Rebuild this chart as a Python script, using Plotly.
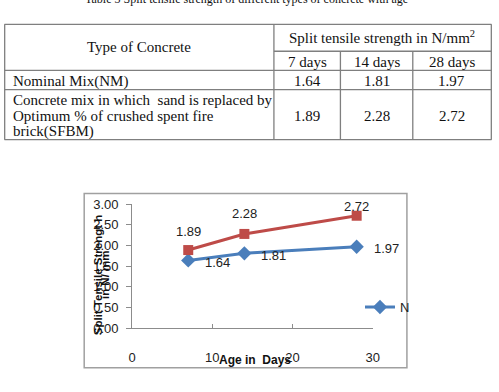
import plotly.graph_objects as go

# ---------------- data ----------------
ages = [7, 14, 28]
nm_values = [1.64, 1.81, 1.97]
sfbm_values = [1.89, 2.28, 2.72]
day_labels = ["7 days", "14 days", "28 days"]
row_nm_label = ["Nominal Mix(NM)"]
row_sfbm_label = ["Concrete mix in which  sand is replaced by",
                  "Optimum % of crushed spent fire",
                  "brick(SFBM)"]
x_ticks = [0, 10, 20, 30]
y_ticks = [0.0, 0.5, 1.0, 1.5, 2.0, 2.5, 3.0]
legend_label = "N"
caption = "Table 3 Split tensile strength of different types of concrete with age"
header_left = "Type of Concrete"
header_right = "Split tensile strength in N/mm<sup>2</sup>"
x_title = "Age in  Days"
y_title_lines = ["Split Tensile Strengt h", "in N/ mm"]

# ---------------- geometry / style ----------------
W, H = 499, 392
def px(x):
    return x / W
def py(y):
    return 1 - y / H

BLUE = "#4A7EBB"
RED = "#BE4B48"
SERIF = "Liberation Serif"
SANS = "Liberation Sans"
TXT = "#111111"
GRID = "#7f7f7f"

fig = go.Figure()

fig.add_trace(go.Scatter(
    x=ages, y=nm_values, mode="lines+markers", name=legend_label,
    line=dict(color=BLUE, width=3),
    marker=dict(symbol="diamond", size=11, color=BLUE),
    showlegend=True, cliponaxis=False,
))
fig.add_trace(go.Scatter(
    x=ages, y=sfbm_values, mode="lines+markers", name="SFBM",
    line=dict(color=RED, width=3),
    marker=dict(symbol="square", size=10, color=RED),
    showlegend=False, cliponaxis=False,
))

annotations = []
# data labels
sfbm_label_shift = [19, 20, 9]
for a, v, s in zip(ages, sfbm_values, sfbm_label_shift):
    annotations.append(dict(x=a, y=v, xref="x", yref="y", text=f"{v:.2f}",
                            showarrow=False, yshift=s, xanchor="center", yanchor="middle",
                            font=dict(family=SANS, size=13, color="#222")))
for a, v in zip(ages, nm_values):
    annotations.append(dict(x=a, y=v, xref="x", yref="y", text=f"{v:.2f}",
                            showarrow=False, xshift=15, yshift=-2, xanchor="left", yanchor="middle",
                            font=dict(family=SANS, size=13, color="#222")))

# axis titles
annotations.append(dict(x=px(257), y=py(367), xref="paper", yref="paper", text=f"<b>{x_title}</b>",
                        showarrow=False, xanchor="center", yanchor="middle",
                        font=dict(family=SANS, size=12, color="#111")))
for xc, line in zip([96, 104], y_title_lines):
    annotations.append(dict(x=px(xc), y=py(278), xref="paper", yref="paper", text=f"<b>{line}</b>",
                            showarrow=False, xanchor="center", yanchor="middle", textangle=-90,
                            font=dict(family=SANS, size=11.5, color="#111")))

# table text
annotations.append(dict(x=px(248), y=py(1), xref="paper", yref="paper", text=caption,
                        showarrow=False, xanchor="center", yanchor="bottom",
                        font=dict(family=SERIF, size=12, color=TXT)))
annotations.append(dict(x=px(138), y=py(42), xref="paper", yref="paper", text=header_left,
                        showarrow=False, xanchor="center", yanchor="middle",
                        font=dict(family=SERIF, size=15, color=TXT)))
annotations.append(dict(x=px(387), y=py(31), xref="paper", yref="paper", text=header_right,
                        showarrow=False, xanchor="center", yanchor="middle",
                        font=dict(family=SERIF, size=15, color=TXT)))
col_x = [310, 381, 458]
for cx, lab in zip(col_x, day_labels):
    annotations.append(dict(x=px(cx), y=py(57), xref="paper", yref="paper", text=lab,
                            showarrow=False, xanchor="center", yanchor="middle",
                            font=dict(family=SERIF, size=15, color=TXT)))
annotations.append(dict(x=px(7), y=py(77), xref="paper", yref="paper", text=row_nm_label[0],
                        showarrow=False, xanchor="left", yanchor="middle",
                        font=dict(family=SERIF, size=15, color=TXT)))
for i, line in enumerate(row_sfbm_label):
    annotations.append(dict(x=px(7), y=py(97 + 16 * i), xref="paper", yref="paper", text=line,
                            showarrow=False, xanchor="left", yanchor="middle",
                            font=dict(family=SERIF, size=15, color=TXT)))
for cx, v in zip(col_x, nm_values):
    annotations.append(dict(x=px(cx), y=py(77), xref="paper", yref="paper", text=f"{v:.2f}",
                            showarrow=False, xanchor="center", yanchor="middle",
                            font=dict(family=SERIF, size=15, color=TXT)))
for cx, v in zip(col_x, sfbm_values):
    annotations.append(dict(x=px(cx), y=py(113), xref="paper", yref="paper", text=f"{v:.2f}",
                            showarrow=False, xanchor="center", yanchor="middle",
                            font=dict(family=SERIF, size=15, color=TXT)))

# table lines and chart border
shapes = []
def hline(y, x0, x1):
    shapes.append(dict(type="line", xref="paper", yref="paper", x0=px(x0), x1=px(x1),
                       y0=py(y), y1=py(y), line=dict(color=GRID, width=1.3)))
def vline(x, y0, y1):
    shapes.append(dict(type="line", xref="paper", yref="paper", x0=px(x), x1=px(x),
                       y0=py(y0), y1=py(y1), line=dict(color=GRID, width=1.3)))
hline(18, 0.5, 498.5)
hline(46, 276, 498.5)
hline(66, 0.5, 498.5)
hline(86, 0.5, 498.5)
hline(138, 0.5, 498.5)
vline(0.7, 18, 138)
vline(276, 18, 138)
vline(344, 46, 138)
vline(418, 46, 138)
vline(498.3, 18, 138)
shapes.append(dict(type="rect", xref="paper", yref="paper", x0=px(82), x1=px(412),
                   y0=py(375), y1=py(194), line=dict(color="#a0a0a0", width=1.5)))

fig.update_layout(
    width=W, height=H, autosize=False,
    margin=dict(l=0, r=0, t=0, b=0, pad=0),
    paper_bgcolor="white", plot_bgcolor="white",
    annotations=annotations, shapes=shapes,
    legend=dict(x=px(364), y=py(312), xanchor="left", yanchor="middle",
                bgcolor="rgba(0,0,0,0)", borderwidth=0,
                font=dict(family=SANS, size=13, color="#222")),
    xaxis=dict(domain=[px(131), px(377)], range=[0, 30], tickvals=x_ticks,
               showgrid=False, zeroline=False, showline=True, linecolor="#8c8c8c", linewidth=1,
               ticks="inside", ticklen=4, tickcolor="#8c8c8c", ticklabelstandoff=17,
               tickfont=dict(family=SANS, size=13, color="#222")),
    yaxis=dict(domain=[py(334), py(205)], range=[0, 3], tickvals=y_ticks, tickformat=".2f",
               showgrid=False, zeroline=False, showline=True, linecolor="#8c8c8c", linewidth=1,
               ticks="outside", ticklen=5, tickcolor="#8c8c8c", ticklabelstandoff=5,
               tickfont=dict(family=SANS, size=13, color="#222")),
)

fig.write_html("out.html")
